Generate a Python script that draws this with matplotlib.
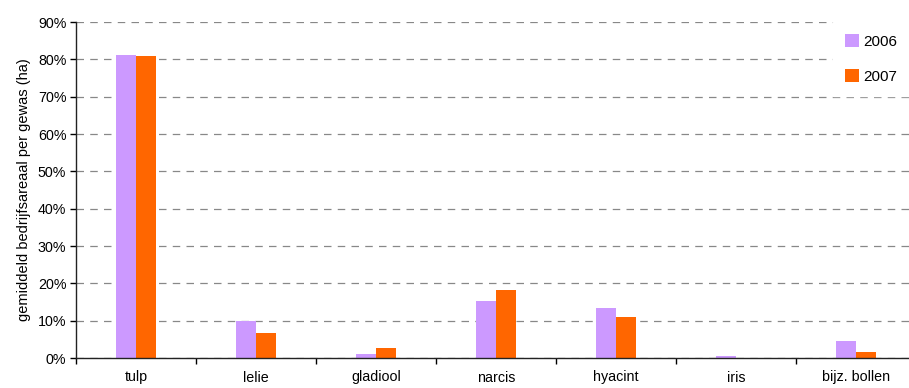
import numpy as np
import matplotlib.pyplot as plt
from matplotlib.ticker import PercentFormatter, FixedLocator

plt.rcParams['font.family'] = ['Liberation Sans', 'DejaVu Sans']

gewassen = ['tulp', 'lelie', 'gladiool', 'narcis', 'hyacint', 'iris', 'bijz. bollen']
aandeel_2006 = [81.1, 10.0, 1.1, 15.3, 13.4, 0.5, 4.6]
aandeel_2007 = [80.8, 6.7, 2.7, 18.2, 11.0, 0.0, 1.6]

W, H = 909, 388
fig = plt.figure(figsize=(W / 100, H / 100), dpi=100)
# axis box runs a little past the right edge of the image
ax = fig.add_axes([76 / W, 30 / H, 840 / W, 336 / H])

x = np.arange(len(gewassen))
bw = 1 / 6
ax.bar(x - bw / 2, aandeel_2006, bw, color='#CC99FF', label='2006', zorder=2)
ax.bar(x + bw / 2, aandeel_2007, bw, color='#FF6600', label='2007', zorder=2)

ax.set_xlim(-0.5, len(gewassen) - 0.5)
ax.set_ylim(0, 90)
ax.yaxis.set_major_locator(FixedLocator(np.arange(0, 91, 10)))
ax.yaxis.set_major_formatter(PercentFormatter(decimals=0))
ax.grid(axis='y', color='#888888', linestyle=(0, (6, 5)), linewidth=0.9, zorder=1)

# category labels at the centres, tick marks between the groups
ax.set_xticks(x)
ax.set_xticklabels(gewassen, fontsize=10.3)
ax.tick_params(axis='x', which='major', length=0, pad=9)
ax.set_xticks(np.arange(-0.5, len(gewassen)), minor=True)
ax.tick_params(axis='x', which='minor', length=4, width=1, direction='out')
ax.tick_params(axis='y', length=4, width=1, labelsize=10.3, pad=3)

for s in ['top', 'right']:
    ax.spines[s].set_visible(False)
for s in ['left', 'bottom']:
    ax.spines[s].set_linewidth(1.0)
    ax.spines[s].set_color('#222222')

ax.set_ylabel('gemiddeld bedrijfsareaal per gewas (ha)', fontsize=10.5, labelpad=5)

leg = ax.legend(loc='upper left', bbox_to_anchor=(833 / W, 1 - 22 / H),
                bbox_transform=fig.transFigure, frameon=True, fancybox=False,
                edgecolor='white', facecolor='white', framealpha=1,
                handlelength=0.9, handleheight=0.9, handletextpad=0.3,
                labelspacing=1.35, borderpad=0.8, borderaxespad=0,
                fontsize=11)
leg.set_zorder(5)

fig.savefig('out.png', dpi=100)
